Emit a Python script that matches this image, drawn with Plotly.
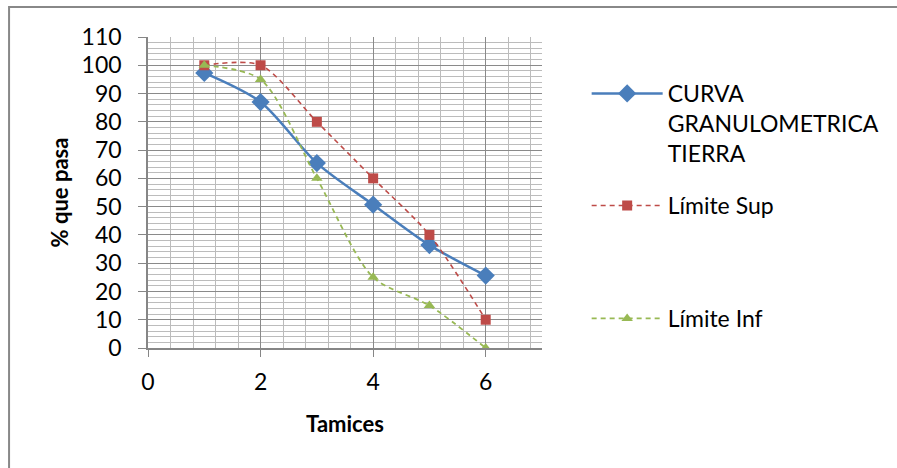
import plotly.graph_objects as go

# ---- data ----
tamices = [1, 2, 3, 4, 5, 6]
curva = [97.3, 87.0, 65.4, 50.7, 36.4, 25.6]
lim_sup = [100, 100, 80, 60, 40, 10]
lim_inf = [100, 95, 60, 25, 15, 0]
names = ["CURVA<br>GRANULOMETRICA<br>TIERRA", "Límite Sup", "Límite Inf"]
x_ticks = [0, 2, 4, 6]
y_ticks = list(range(0, 111, 10))

W, H = 897, 468
L, R, T, B = 148, 545, 37, 348  # plot area in px

def px2x(px):
    return (px - L) / (R - L)

def px2y(py):
    return (B - py) / (B - T)

FONT = "Lato, Calibri, sans-serif"
FS = 23
BLUE = "#4A7EBB"
RED = "#BE4B48"
GREEN = "#98B954"

fig = go.Figure()
fig.add_trace(go.Scatter(
    x=tamices, y=curva, name=names[0], mode="lines+markers",
    line=dict(color=BLUE, width=2.5, shape="spline", smoothing=0.8),
    marker=dict(symbol="diamond", size=14, color=BLUE),
    legend="legend"))
fig.add_trace(go.Scatter(
    x=tamices, y=lim_sup, name=names[1], mode="lines+markers",
    line=dict(color=RED, width=1.6, dash="5px,4px", shape="spline", smoothing=0.8),
    marker=dict(symbol="square", size=10, color=RED),
    legend="legend2"))
fig.add_trace(go.Scatter(
    x=tamices, y=lim_inf, name=names[2], mode="lines+markers",
    line=dict(color=GREEN, width=1.8, dash="5px,4px", shape="spline", smoothing=0.8),
    marker=dict(symbol="triangle-up", size=10, color=GREEN),
    legend="legend3"))

leg_common = dict(font=dict(family=FONT, size=FS, color="#000"),
                  xanchor="left", yanchor="top", itemwidth=71,
                  valign="top", bgcolor="rgba(0,0,0,0)", tracegroupgap=0)

fig.update_layout(
    width=W, height=H,
    margin=dict(l=L, r=W - R, t=T, b=H - B),
    paper_bgcolor="white", plot_bgcolor="white",
    font=dict(family=FONT, size=FS, color="#000"),
    xaxis=dict(range=[0, 7], tickvals=x_ticks, ticktext=[str(v) for v in x_ticks],
               showgrid=True, gridcolor="#8a8a8a", gridwidth=1,
               minor=dict(dtick=0.4, tick0=0, showgrid=True, gridcolor="#bcbcbc", gridwidth=1),
               showline=True, linecolor="#868686", linewidth=1.5,
               ticks="outside", ticklen=7, tickcolor="#868686",
               zeroline=False, tickfont=dict(size=FS), ticklabelstandoff=6,
               title=dict(text="<b>Tamices</b>", font=dict(size=FS - 1), standoff=22)),
    yaxis=dict(range=[0, 110], tickvals=y_ticks,
               showgrid=True, gridcolor="#8a8a8a", gridwidth=1,
               minor=dict(dtick=2, tick0=0, showgrid=True, gridcolor="#bcbcbc", gridwidth=1),
               showline=True, linecolor="#868686", linewidth=1.5,
               ticks="outside", ticklen=8, tickcolor="#868686",
               zeroline=False, tickfont=dict(size=FS), ticklabelstandoff=12,
               title=dict(text="<b>% que pasa</b>", font=dict(size=FS - 1), standoff=7)),
    legend=dict(x=px2x(590), y=px2y(72), **leg_common),
    legend2=dict(x=px2x(590), y=px2y(184), **leg_common),
    legend3=dict(x=px2x(590), y=px2y(297), **leg_common),
    showlegend=True,
    shapes=[dict(type="rect", xref="paper", yref="paper",
                 x0=px2x(8), y0=px2y(H + 20), x1=px2x(W + 20), y1=px2y(7),
                 line=dict(color="#888888", width=2), layer="below")],
)

fig.write_html("out.html")
